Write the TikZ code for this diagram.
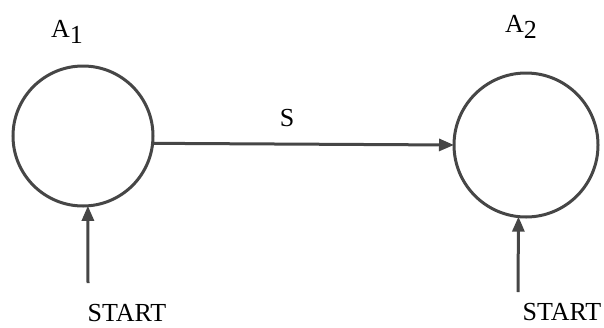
\documentclass[tikz,border=0pt]{standalone}
\usepackage{fontspec}
\setmainfont{Liberation Serif}
\usetikzlibrary{arrows.meta}
\definecolor{ink}{HTML}{464646}
\tikzset{
  state/.style={circle,draw=ink,line width=3pt,inner sep=0pt,outer sep=0pt},
  conn/.style={draw=ink,line width=3pt,-{Triangle[length=15pt,width=12pt]}},
  lbl/.style={text=black,font=\fontsize{26}{30}\selectfont,inner sep=0pt},
}
\begin{document}
\begin{tikzpicture}[x=1pt,y=-1pt]
\useasboundingbox (0,0) rectangle (604,327);
\node[state,minimum size=140pt] (a1) at (83,136) {};
\node[state,minimum size=144pt] (a2) at (526,145) {};
\node[lbl] (l1) at (67,32) {A\raisebox{-0.5ex}{1}};
\node[lbl] (l2) at (521,27) {A\raisebox{-0.5ex}{2}};
\node[lbl] (s) at (287,118) {S};
\node[lbl] (st1) at (127,313) {START};
\node[lbl] (st2) at (562,312) {START};
\coordinate (p1) at (88,283);
\coordinate (p2) at (518,292);
\draw[conn] (a1.-6) -- (a2.west);
\draw[conn] (p1) -- (a1.-86);
\draw[conn] (p2) -- (a2.-96);
\end{tikzpicture}
\end{document}
